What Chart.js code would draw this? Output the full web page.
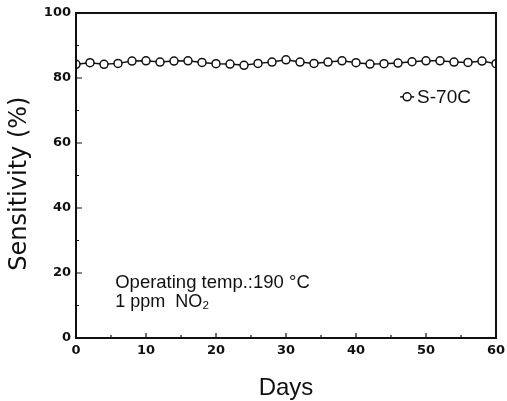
<!DOCTYPE html>
<html>
<head>
<meta charset="utf-8">
<script src="https://cdn.jsdelivr.net/npm/chart.js@4.4.1/dist/chart.umd.min.js"></script>
<style>
  html, body { margin: 0; padding: 0; background: #fff; }
  canvas { display: block; }
</style>
</head>
<body>
<canvas id="chart" width="507" height="401"></canvas>
<script>
// Sensitivity of S-70C to 1 ppm NO2 over 60 days
const days = [0, 2, 4, 6, 8, 10, 12, 14, 16, 18, 20, 22, 24, 26, 28, 30,
              32, 34, 36, 38, 40, 42, 44, 46, 48, 50, 52, 54, 56, 58, 60];
const sensitivity = [84.2, 84.7, 84.2, 84.5, 85.2, 85.3, 84.9, 85.2, 85.3, 84.8, 84.4,
                     84.3, 83.9, 84.5, 84.9, 85.6, 84.9, 84.5, 84.9, 85.3, 84.7,
                     84.3, 84.4, 84.6, 85.0, 85.3, 85.3, 84.9, 84.8, 85.2, 84.4];
const seriesName = "S-70C";
const xTicks = [0, 10, 20, 30, 40, 50, 60];
const yTicks = [0, 20, 40, 60, 80, 100];
const yTitle = "Sensitivity (%)";
const noteLines = ["Operating temp.:190 °C", "1 ppm  NO₂"];

const black = "#111";
const tickFont = { family: "DejaVu Sans", size: 13, weight: "bold" };
const textFont = "'Liberation Sans', Arial, sans-serif";

// frame, inward ticks, y title, legend and note
const decorations = {
  id: "decorations",
  afterDatasetsDraw(chart) {
    const { ctx, chartArea: a, scales: { x, y } } = chart;
    ctx.save();
    ctx.strokeStyle = black;
    ctx.lineWidth = 2;
    ctx.strokeRect(a.left, a.top, a.right - a.left, a.bottom - a.top);

    ctx.lineWidth = 1.2;
    ctx.beginPath();
    for (let v = 0; v <= 60; v += 5) {
      const px = x.getPixelForValue(v);
      const len = v % 10 === 0 ? 5 : 3;
      ctx.moveTo(px, a.bottom); ctx.lineTo(px, a.bottom - len);
    }
    for (let v = 0; v <= 100; v += 10) {
      const py = y.getPixelForValue(v);
      const len = v % 20 === 0 ? 6 : 3;
      ctx.moveTo(a.left, py); ctx.lineTo(a.left + len, py);
    }
    ctx.stroke();

    // y axis title, sits a little below the middle of the axis
    ctx.save();
    ctx.translate(20, y.getPixelForValue(47.5));
    ctx.rotate(-Math.PI / 2);
    ctx.fillStyle = black;
    ctx.font = "24px 'DejaVu Sans', sans-serif";
    ctx.textAlign = "center";
    ctx.textBaseline = "middle";
    ctx.fillText(yTitle, 0, 0);
    ctx.restore();

    // legend
    const lx = x.getPixelForValue(47.3), ly = y.getPixelForValue(74.2);
    ctx.lineWidth = 1.5;
    ctx.beginPath();
    ctx.moveTo(lx - 7, ly); ctx.lineTo(lx + 7, ly);
    ctx.stroke();
    ctx.beginPath();
    ctx.arc(lx, ly, 4, 0, Math.PI * 2);
    ctx.fillStyle = "#fff";
    ctx.fill();
    ctx.stroke();
    ctx.fillStyle = black;
    ctx.font = "19px " + textFont;
    ctx.textBaseline = "middle";
    ctx.textAlign = "left";
    ctx.fillText(seriesName, lx + 10, ly + 1);

    // note
    ctx.font = "18.5px " + textFont;
    ctx.textBaseline = "alphabetic";
    const nx = x.getPixelForValue(5.6);
    ctx.fillText(noteLines[0], nx, y.getPixelForValue(15.4));
    ctx.font = "18px " + textFont;
    ctx.fillText(noteLines[1], nx, y.getPixelForValue(9.5));
    ctx.restore();
  }
};

new Chart(document.getElementById("chart"), {
  type: "line",
  data: {
    datasets: [{
      label: seriesName,
      data: days.map((d, i) => ({ x: d, y: sensitivity[i] })),
      borderColor: black,
      borderWidth: 1.5,
      pointRadius: 4,
      pointBorderWidth: 1.5,
      pointBackgroundColor: "#fff",
      pointBorderColor: black,
      tension: 0
    }]
  },
  options: {
    responsive: false,
    devicePixelRatio: 1,
    animation: false,
    layout: { padding: { top: 13, right: 11, left: 0, bottom: 0 } },
    plugins: { legend: { display: false }, tooltip: { enabled: false } },
    scales: {
      x: {
        type: "linear",
        min: 0, max: 60,
        afterFit(scale) {
          scale.height = 63;
          scale.paddingLeft = 0;
          scale.paddingRight = 0;
        },
        afterBuildTicks(scale) { scale.ticks = xTicks.map(v => ({ value: v })); },
        grid: { display: false, drawTicks: false },
        border: { display: false },
        ticks: { color: black, font: tickFont, padding: 5, maxRotation: 0 },
        title: {
          display: true, text: "Days", color: black,
          font: { family: textFont, size: 24, lineHeight: 1 },
          padding: { top: 0, bottom: 1 }
        }
      },
      y: {
        min: 0, max: 100,
        afterFit(scale) {
          scale.width = 76;
          scale.paddingTop = 0;
          scale.paddingBottom = 0;
        },
        afterBuildTicks(scale) { scale.ticks = yTicks.map(v => ({ value: v })); },
        grid: { display: false, drawTicks: false },
        border: { display: false },
        ticks: { color: black, font: tickFont, padding: 5 }
      }
    }
  },
  plugins: [decorations]
});
</script>
</body>
</html>
